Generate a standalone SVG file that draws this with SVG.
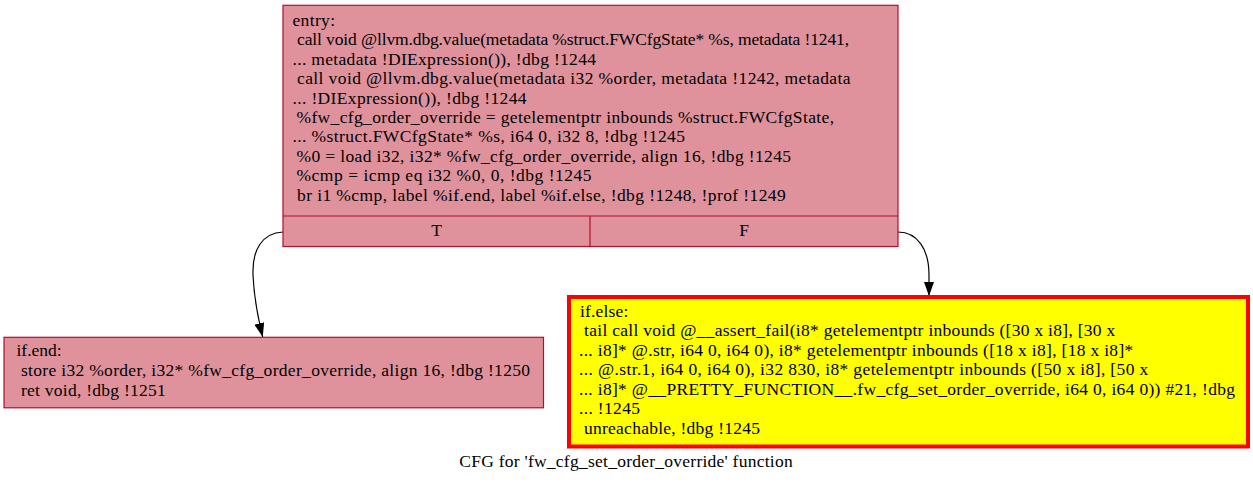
<svg xmlns="http://www.w3.org/2000/svg" width="1253" height="484" viewBox="0 0 1253 484">
<style>
text{font-family:'Liberation Serif','Times New Roman',Times,serif;font-size:17.5px;fill:#000}
.blk{fill:#df929c;stroke:#b70d28;stroke-width:1.2}
.warn{fill:#ffff00;stroke:#ff0000;stroke-width:4}
.edge{fill:none;stroke:#000;stroke-width:1.2}
.mid{text-anchor:middle}
</style>
<defs>
<marker id="ah" viewBox="0 0 14 10" refX="14" refY="5" markerWidth="14" markerHeight="10" markerUnits="userSpaceOnUse" orient="auto">
<path d="M0,0 L14,5 L0,10 Z" fill="#000"/>
</marker>
</defs>
<rect width="1253" height="484" fill="#fff"/>
<g id="connectors">
<path class="edge" d="M283,232 C262,233 252,250 253,275 C254,298 258,318 262.7,337" marker-end="url(#ah)"/>
<path class="edge" d="M898,232 C918,232 929,250 929,275 L929,296" marker-end="url(#ah)"/>
</g>
<g id="entry">
<rect class="blk" x="283" y="5.3" width="615" height="241.2"/>
<line class="blk" x1="283" y1="216" x2="898" y2="216"/>
<line class="blk" x1="590" y1="216" x2="590" y2="246.5"/>
<text x="292.5" y="26" textLength="42.5">entry:</text>
<text x="297" y="45.4" textLength="552">call void @llvm.dbg.value(metadata %struct.FWCfgState* %s, metadata !1241,</text>
<text x="292.5" y="64.8" textLength="303.5">... metadata !DIExpression()), !dbg !1244</text>
<text x="297" y="84.2" textLength="553.5">call void @llvm.dbg.value(metadata i32 %order, metadata !1242, metadata</text>
<text x="292.5" y="103.6" textLength="234">... !DIExpression()), !dbg !1244</text>
<text x="296.5" y="123" textLength="537.5">%fw_cfg_order_override = getelementptr inbounds %struct.FWCfgState,</text>
<text x="292.5" y="142.4" textLength="392.5">... %struct.FWCfgState* %s, i64 0, i32 8, !dbg !1245</text>
<text x="296.5" y="161.8" textLength="494.5">%0 = load i32, i32* %fw_cfg_order_override, align 16, !dbg !1245</text>
<text x="296.5" y="181.2" textLength="295">%cmp = icmp eq i32 %0, 0, !dbg !1245</text>
<text x="297" y="200.6" textLength="488.7">br i1 %cmp, label %if.end, label %if.else, !dbg !1248, !prof !1249</text>
<text class="mid" x="436.5" y="236">T</text>
<text class="mid" x="744" y="236">F</text>
</g>
<g id="if.end">
<rect class="blk" x="4" y="337.3" width="539.5" height="70.5"/>
<text x="16.5" y="356">if.end:</text>
<text x="21" y="376" textLength="509">store i32 %order, i32* %fw_cfg_order_override, align 16, !dbg !1250</text>
<text x="21" y="395.7" textLength="144.7">ret void, !dbg !1251</text>
</g>
<g id="if.else">
<rect class="warn" x="569" y="297" width="679" height="149.5"/>
<text x="580" y="316.5" textLength="48.3">if.else:</text>
<text x="584" y="336" textLength="531.3">tail call void @__assert_fail(i8* getelementptr inbounds ([30 x i8], [30 x</text>
<text x="579" y="355.5" textLength="554.3">... i8]* @.str, i64 0, i64 0), i8* getelementptr inbounds ([18 x i8], [18 x i8]*</text>
<text x="579" y="375" textLength="569.3">... @.str.1, i64 0, i64 0), i32 830, i8* getelementptr inbounds ([50 x i8], [50 x</text>
<text x="579" y="394.5" textLength="656">... i8]* @__PRETTY_FUNCTION__.fw_cfg_set_order_override, i64 0, i64 0)) #21, !dbg</text>
<text x="579" y="414" textLength="61">... !1245</text>
<text x="584" y="433.5" textLength="176">unreachable, !dbg !1245</text>
</g>
<text x="459.3" y="467" textLength="333.4">CFG for 'fw_cfg_set_order_override' function</text>
</svg>
